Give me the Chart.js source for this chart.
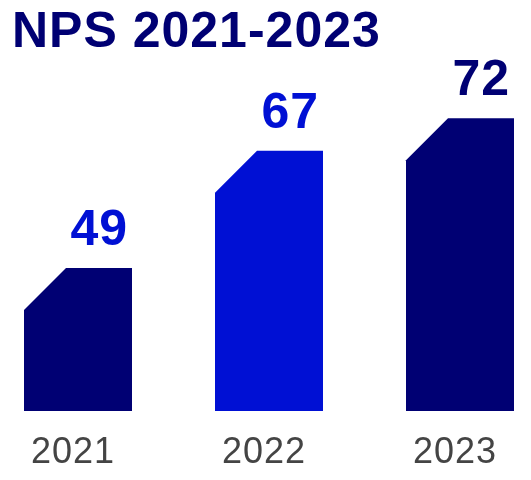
<!DOCTYPE html>
<html lang="en">
<head>
  <meta charset="UTF-8">
  <title>NPS 2021-2023</title>
  <script src="https://cdn.jsdelivr.net/npm/chart.js"></script>
  <style>
    body { margin: 0; background: #fff; }
  </style>
</head>
<body>
  <canvas id="npsChart" width="531" height="480"></canvas>
  <script>
    const years = ['2021', '2022', '2023'];
    const npsScores = [49, 67, 72];

    const NAVY = '#000073';
    const BLUE = '#0010d4';
    const FONT = '"Liberation Sans", Arial, sans-serif';
    const barColors = [NAVY, BLUE, NAVY];
    const labelColors = [BLUE, BLUE, NAVY];
    const CUT = 42;

    // slightly wider text, like the original typeface
    const spacing = {
      id: 'spacing',
      beforeDraw(chart) { chart.ctx.letterSpacing = '1px'; },
      afterDraw(chart) { chart.ctx.letterSpacing = '0px'; }
    };

    // bars with a cut top-left corner + value labels
    const chamferBars = {
      id: 'chamferBars',
      afterDatasetsDraw(chart) {
        const ctx = chart.ctx;
        const meta = chart.getDatasetMeta(0);
        const base = chart.scales.y.getPixelForValue(chart.scales.y.min);
        ctx.save();
        meta.data.forEach((bar, i) => {
          const { x, y, width } = bar.getProps(['x', 'y', 'width'], true);
          const left = x - width / 2;
          const right = x + width / 2;
          ctx.fillStyle = barColors[i];
          ctx.beginPath();
          ctx.moveTo(left, base);
          ctx.lineTo(left, y + CUT);
          ctx.lineTo(left + CUT, y);
          ctx.lineTo(right, y);
          ctx.lineTo(right, base);
          ctx.closePath();
          ctx.fill();

          ctx.fillStyle = labelColors[i];
          ctx.font = 'bold 50px ' + FONT;
          ctx.textAlign = 'right';
          ctx.textBaseline = 'alphabetic';
          ctx.fillText(String(npsScores[i]), right - 4, y - 23);
        });
        ctx.restore();
      }
    };

    const spacer = (w) => ({
      display: true,
      ticks: { display: false },
      grid: { display: false },
      border: { display: false },
      afterFit(scale) { scale.width = w; }
    });

    new Chart(document.getElementById('npsChart'), {
      type: 'bar',
      data: {
        labels: years,
        datasets: [{
          data: npsScores,
          backgroundColor: 'transparent',
          barThickness: 108
        }]
      },
      options: {
        responsive: false,
        animation: false,
        layout: { padding: { top: 0, bottom: 6, left: 12, right: 0 } },
        plugins: {
          legend: { display: false },
          tooltip: { enabled: false },
          title: {
            display: true,
            text: 'NPS 2021-2023',
            align: 'start',
            color: NAVY,
            font: { family: FONT, size: 50, weight: 'bold' },
            padding: { top: 3, bottom: 0 }
          }
        },
        scales: {
          x: {
            offset: false,
            grid: { display: false, drawTicks: false },
            border: { display: false },
            ticks: {
              color: '#444444',
              font: { family: FONT, size: 36 },
              padding: 20,
              labelOffset: -5,
              autoSkip: false,
              maxRotation: 0
            },
            afterFit(scale) { scale.height = 63; }
          },
          y: Object.assign(spacer(66), { min: 27, max: 80.5, beginAtZero: false, position: 'left' }),
          y2: Object.assign(spacer(71), { position: 'right' })
        }
      },
      plugins: [spacing, chamferBars]
    });
  </script>
</body>
</html>
